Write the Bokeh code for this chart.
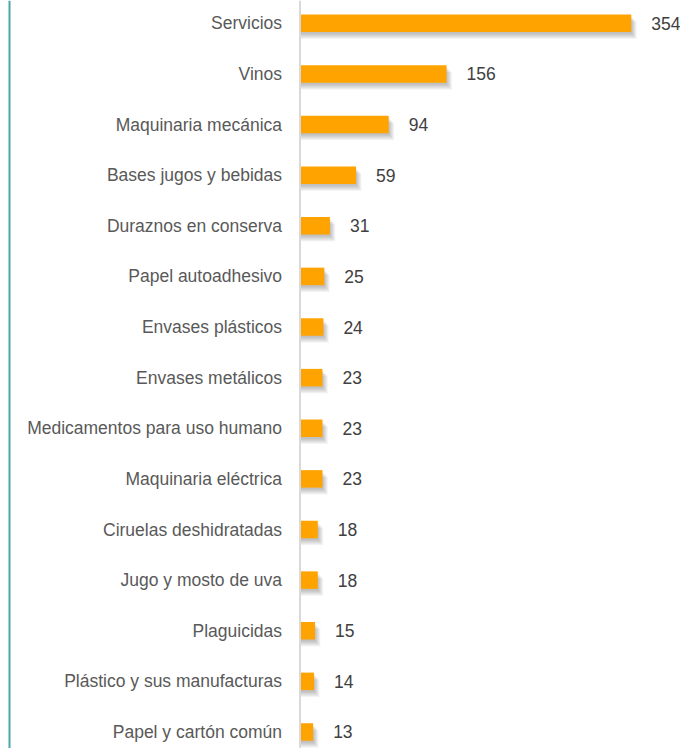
from bokeh.plotting import figure
from bokeh.models import ColumnDataSource, Range1d, Span
from bokeh.transform import dodge
from bokeh.embed import file_html
from bokeh.resources import INLINE
from bokeh.core.properties import value

categories = [
    "Servicios", "Vinos", "Maquinaria mecánica", "Bases jugos y bebidas",
    "Duraznos en conserva", "Papel autoadhesivo", "Envases plásticos",
    "Envases metálicos", "Medicamentos para uso humano", "Maquinaria eléctrica",
    "Ciruelas deshidratadas", "Jugo y mosto de uva", "Plaguicidas",
    "Plástico y sus manufacturas", "Papel y cartón común",
]
values = [354, 156, 94, 59, 31, 25, 24, 23, 23, 23, 18, 18, 15, 14, 13]
positions = list(range(len(categories)))
value_labels = [str(v) for v in values]

src = ColumnDataSource(dict(pos=positions, val=values, lab=value_labels, cat=categories))

FONT = "Liberation Sans"
W, H = 680, 748
PXY = 50.62      # px per category
Y0 = 22.8        # px of first category centre
PXX = 0.933      # px per unit value
X0 = 300.5       # px of value zero

p = figure(width=W, height=H, output_backend="svg", toolbar_location=None,
           x_range=Range1d(-X0 / PXX, (W - X0) / PXX),
           y_range=Range1d((H - Y0) / PXY, -Y0 / PXY),
           min_border=0, outline_line_color=None)
p.xaxis.visible = False
p.yaxis.visible = False
p.xgrid.visible = False
p.ygrid.visible = False

# left teal border and grey category axis line
p.add_layout(Span(location=(9 - X0) / PXX, dimension="height",
                  line_color="#4aa6ad", line_width=2))
p.add_layout(Span(location=-1 / PXX, dimension="height",
                  line_color="#d9d9d9", line_width=2))

# soft shadow layers
for k in range(1, 7):
    p.hbar(y=dodge("pos", (1.0 + k) / PXY), left=0,
           right=dodge("val", k * 0.9 / PXX),
           height=17.5 / PXY, source=src,
           fill_color="black", fill_alpha=0.045, line_color=None)

p.hbar(y="pos", left=0, right="val", height=17.5 / PXY, source=src,
       fill_color="#FFA300", line_color=None)

# value labels
p.text(x="val", y="pos", text="lab", source=src, x_offset=20,
       text_align="left", text_baseline="middle", text_font=value(FONT),
       text_font_size="17.5px", text_color="#404040")

# category labels
p.text(x=0, y="pos", text="cat", source=src, x_offset=-19,
       text_align="right", text_baseline="middle", text_font=value(FONT),
       text_font_size="17.5px", text_color="#595959")

open("out.html", "w").write(file_html(p, INLINE))
